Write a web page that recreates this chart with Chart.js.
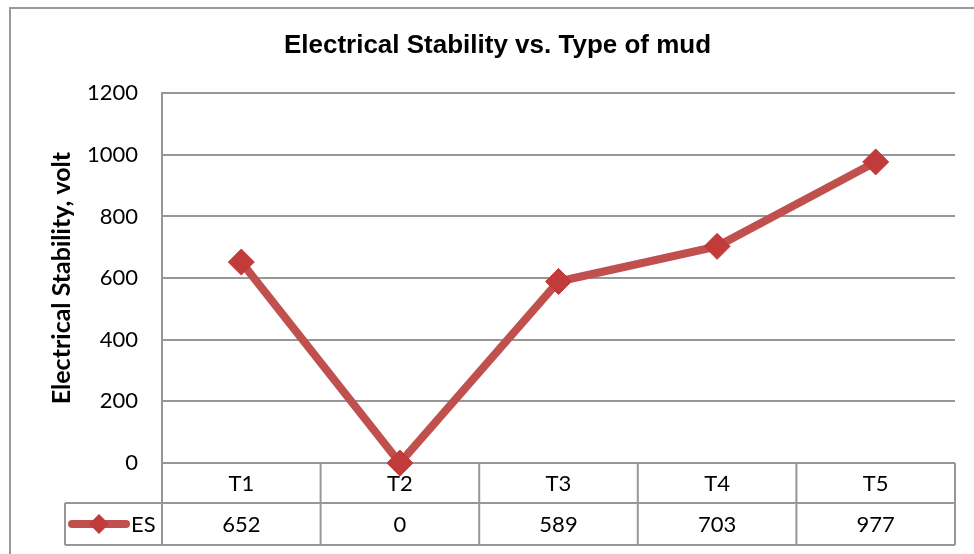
<!DOCTYPE html>
<html>
<head>
<meta charset="utf-8">
<script src="https://cdn.jsdelivr.net/npm/chart.js@4.4.1/dist/chart.umd.min.js"></script>
<style>
  html, body { margin: 0; padding: 0; background: #fff; }
  #wrap { width: 974px; height: 554px; position: relative; }
</style>
</head>
<body>
<div id="wrap"><canvas id="chart" width="974" height="554"></canvas></div>
<script>
// --- DATA ---
const categories = ["T1", "T2", "T3", "T4", "T5"];
const esValues = [652, 0, 589, 703, 977];
const seriesName = "ES";
const yTicks = [0, 200, 400, 600, 800, 1000, 1200];

// --- STYLE ---
const LINE_COLOR = "#C0504D";
const MARKER_COLOR = "#C13B3B";
const GRID_COLOR = "#979797";
const BODY_FONT = "Lato, 'Open Sans', sans-serif";

// outer frame + data table under the plot
const tablePlugin = {
    id: "dataTable",
    beforeDraw(chart) {
        const ctx = chart.ctx;
        ctx.save();
        ctx.strokeStyle = "#9a9a9a";
        ctx.lineWidth = 2;
        ctx.strokeRect(10, 8, chart.width + 20, chart.height + 20);
        ctx.restore();
    },
    beforeDatasetsDraw(chart) {
        const ctx = chart.ctx;
        const area = chart.chartArea;
        const x = chart.scales.x;
        const cellW = (area.right - area.left) / categories.length;
        const row0 = area.bottom;
        const row1 = row0 + 40;
        const row2 = row1 + 42;
        const legendLeft = 65;

        ctx.save();
        ctx.strokeStyle = GRID_COLOR;
        ctx.lineWidth = 2;
        ctx.beginPath();
        // horizontal lines
        ctx.moveTo(legendLeft, row1); ctx.lineTo(area.right, row1);
        ctx.moveTo(legendLeft, row2); ctx.lineTo(area.right, row2);
        // verticals
        for (let i = 0; i <= categories.length; i++) {
            const bx = area.left + i * cellW;
            ctx.moveTo(bx, row0); ctx.lineTo(bx, row2);
        }
        ctx.moveTo(legendLeft, row1); ctx.lineTo(legendLeft, row2);
        ctx.stroke();

        ctx.fillStyle = "#000";
        ctx.font = "22px " + BODY_FONT;
        ctx.textAlign = "center";
        ctx.textBaseline = "middle";
        categories.forEach((c, i) => {
            const cx = x.getPixelForValue(i);
            ctx.fillText(c, cx, (row0 + row1) / 2 + 1);
            ctx.fillText(String(esValues[i]), cx, (row1 + row2) / 2 + 1);
        });

        // legend key
        const ly = (row1 + row2) / 2;
        ctx.strokeStyle = LINE_COLOR;
        ctx.lineWidth = 8;
        ctx.lineCap = "round";
        ctx.beginPath();
        ctx.moveTo(72, ly); ctx.lineTo(126, ly);
        ctx.stroke();
        ctx.fillStyle = MARKER_COLOR;
        ctx.beginPath();
        ctx.moveTo(99, ly - 10); ctx.lineTo(109, ly); ctx.lineTo(99, ly + 10); ctx.lineTo(89, ly);
        ctx.closePath();
        ctx.fill();
        ctx.fillStyle = "#000";
        ctx.textAlign = "left";
        ctx.fillText(seriesName, 131, ly + 1);
        ctx.restore();
    }
};

const ctx = document.getElementById("chart").getContext("2d");
new Chart(ctx, {
    type: "line",
    data: {
        labels: categories,
        datasets: [{
            label: seriesName,
            data: esValues,
            borderColor: LINE_COLOR,
            borderWidth: 8,
            tension: 0,
            pointStyle: "rectRot",
            pointRadius: 13,
            pointHoverRadius: 13,
            pointBackgroundColor: MARKER_COLOR,
            pointBorderColor: MARKER_COLOR,
            pointBorderWidth: 1,
            clip: false
        }]
    },
    options: {
        responsive: false,
        animation: false,
        layout: { padding: { left: 40, right: 19, top: 0, bottom: 91 } },
        plugins: {
            legend: { display: false },
            tooltip: { enabled: false },
            title: {
                display: true,
                text: "Electrical Stability vs. Type of mud",
                color: "#000",
                font: { family: "'Liberation Sans', Arial, sans-serif", size: 26, weight: "bold" },
                padding: { top: 30, bottom: 32 }
            }
        },
        scales: {
            x: {
                type: "category",
                display: false,
                offset: true
            },
            y: {
                min: 0,
                max: 1200,
                afterBuildTicks(scale) {
                    scale.ticks = yTicks.map(v => ({ value: v }));
                },
                afterFit(scale) { scale.width = 122; },
                grid: { color: GRID_COLOR, lineWidth: 2, drawTicks: false },
                border: { display: true, color: GRID_COLOR, width: 2 },
                ticks: {
                    color: "#000",
                    padding: 24,
                    font: { family: BODY_FONT, size: 22 },
                    callback: v => String(v)
                },
                title: {
                    display: true,
                    text: "Electrical Stability, volt",
                    color: "#000",
                    font: { family: BODY_FONT, size: 25, weight: "bold" },
                    padding: { top: 7, bottom: 0 }
                }
            }
        }
    },
    plugins: [tablePlugin]
});
</script>
</body>
</html>
